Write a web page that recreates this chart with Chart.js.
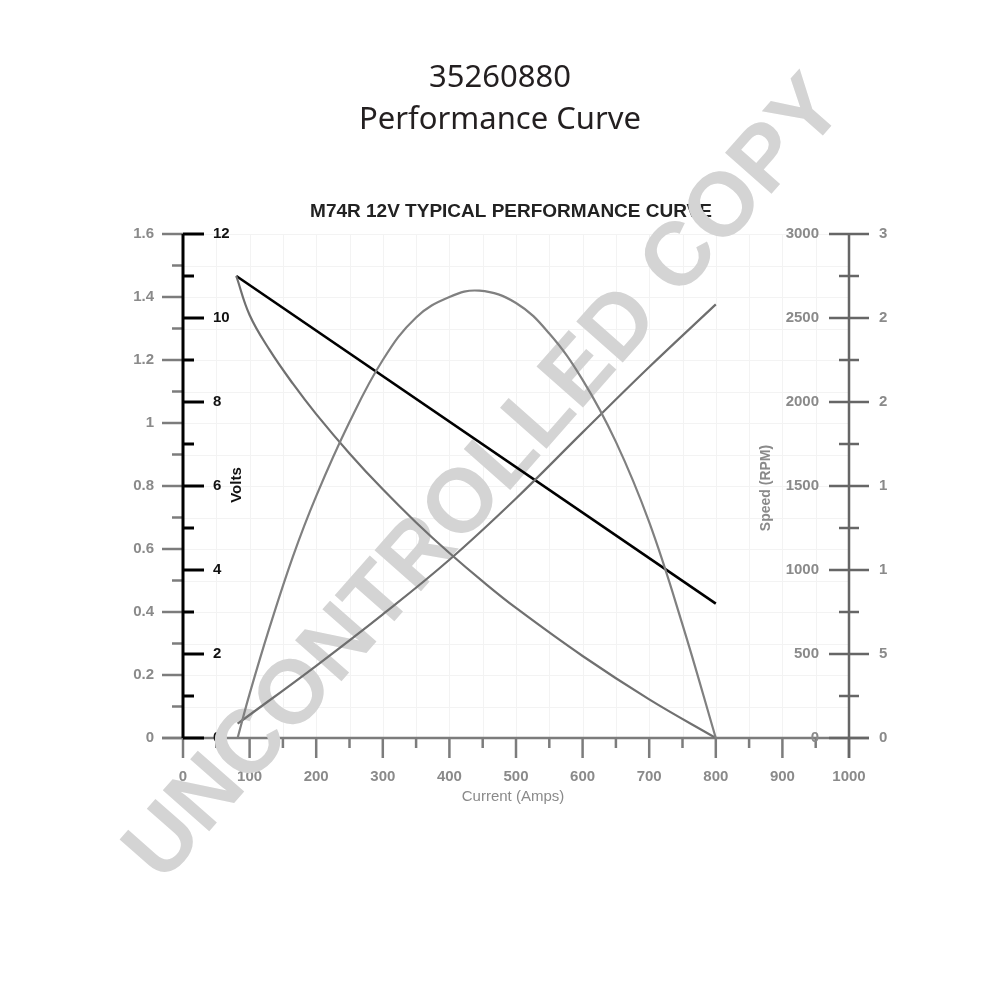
<!DOCTYPE html>
<html>
<head>
<meta charset="utf-8">
<title>35260880 Performance Curve</title>
<script src="https://cdn.jsdelivr.net/npm/chart.js@4.4.1/dist/chart.umd.min.js"></script>
<style>
  html, body { margin: 0; padding: 0; background: #fff; }
  #perf-chart { display: block; }
</style>
</head>
<body>
<canvas id="perf-chart" width="1000" height="1000"></canvas>
<script>
// Values (x = current in amps)
const voltsAmps = [80, 800];
const voltsValues = [11.0, 3.2];

const speedAmps = [80, 100, 130, 165, 200, 250, 300, 350, 400, 450, 500, 600, 700, 800];
const speedRpm = [2750, 2518, 2310, 2109, 1928, 1694, 1480, 1283, 1101, 932, 774, 488, 230, 0];

const powerAmps = [82, 100, 130, 165, 200, 250, 300, 350, 400, 445, 500, 550, 600, 650, 700, 750, 800];
const powerKw = [0, 0.14, 0.351, 0.576, 0.768, 1.003, 1.2, 1.335, 1.40, 1.42, 1.381, 1.284, 1.137, 0.94, 0.685, 0.36, 0];

const torqueAmps = [82, 200, 300, 400, 500, 600, 700, 800];
const torqueNm = [0.85, 4.3, 7.36, 10.61, 14.26, 18.19, 22.08, 25.81];

// Tick labels
const ampTicks = [0, 100, 200, 300, 400, 500, 600, 700, 800, 900, 1000];
const kwTicks = ['0', '0.2', '0.4', '0.6', '0.8', '1', '1.2', '1.4', '1.6'];
const voltTicks = ['0', '2', '4', '6', '8', '10', '12'];
const rpmTicks = ['0', '500', '1000', '1500', '2000', '2500', '3000'];
const torqueTicks = ['0', '5', '1', '1', '2', '2', '3']; // cut off in the original

const GRAY = '#7c7c7c';
const LABEL_GRAY = '#8a8a8a';
const FONT = '"Liberation Sans", Arial, sans-serif';

function toPoints(xs, ys) {
    return xs.map((x, i) => ({ x: x, y: ys[i] }));
}

function line(ctx, x1, y1, x2, y2, color, width) {
    ctx.beginPath();
    ctx.strokeStyle = color;
    ctx.lineWidth = width;
    ctx.moveTo(x1, y1);
    ctx.lineTo(x2, y2);
    ctx.stroke();
}

function text(ctx, str, x, y, font, color, align) {
    ctx.font = font;
    ctx.fillStyle = color;
    ctx.textAlign = align || 'center';
    ctx.textBaseline = 'middle';
    ctx.fillText(str, x, y);
}

// Axes, titles and the watermark are drawn here, under the curves
const axesPlugin = {
    id: 'axesPlugin',
    beforeDatasetsDraw(chart) {
        const ctx = chart.ctx;
        const area = chart.chartArea;
        const x = chart.scales.x;
        const yKw = chart.scales.yKw;
        const yVolts = chart.scales.yVolts;
        const yRpm = chart.scales.yRpm;

        ctx.save();

        // faint grid
        for (let a = 0; a <= 1000; a += 50) {
            const px = Math.round(x.getPixelForValue(a)) + 0.5;
            line(ctx, px, area.top, px, area.bottom, '#f3f3f3', 1);
        }
        for (let i = 0; i <= 16; i++) {
            const py = Math.round(yKw.getPixelForValue(i / 10)) + 0.5;
            line(ctx, area.left, py, area.right, py, '#f3f3f3', 1);
        }

        // x axis
        line(ctx, area.left - 21, area.bottom, area.right + 20, area.bottom, GRAY, 2.5);
        for (let a = 0; a <= 1000; a += 50) {
            const px = x.getPixelForValue(a);
            const len = a % 100 === 0 ? 20 : 10;
            line(ctx, px, area.bottom, px, area.bottom + len, GRAY, 2.5);
        }
        ampTicks.forEach(a => {
            text(ctx, String(a), x.getPixelForValue(a), area.bottom + 39, 'bold 15px ' + FONT, LABEL_GRAY);
        });
        text(ctx, 'Current (Amps)', (area.left + area.right) / 2 - 3, area.bottom + 59, '15px ' + FONT, LABEL_GRAY);

        // left gray axis (ticks point outwards)
        for (let i = 0; i <= 16; i++) {
            const py = yKw.getPixelForValue(i / 10);
            const len = i % 2 === 0 ? 21 : 11;
            line(ctx, area.left - len, py, area.left, py, GRAY, 2.5);
        }
        kwTicks.forEach((t, i) => {
            text(ctx, t, area.left - 29, yKw.getPixelForValue(i * 0.2), 'bold 15px ' + FONT, LABEL_GRAY, 'right');
        });

        // volts axis (black, ticks point inwards)
        line(ctx, area.left, area.top, area.left, area.bottom, '#000', 3);
        for (let v = 0; v <= 12; v++) {
            const py = yVolts.getPixelForValue(v);
            const len = v % 2 === 0 ? 21 : 11;
            line(ctx, area.left, py, area.left + len, py, '#000', 3);
        }
        voltTicks.forEach((t, i) => {
            text(ctx, t, area.left + 30, yVolts.getPixelForValue(i * 2), 'bold 15px ' + FONT, '#111', 'left');
        });
        ctx.save();
        ctx.translate(237, 485);
        ctx.rotate(-Math.PI / 2);
        text(ctx, 'Volts', 0, 0, 'bold 15px ' + FONT, '#111');
        ctx.restore();

        // right axis (speed and torque)
        line(ctx, area.right, area.top, area.right, area.bottom + 20, '#666', 2.5);
        for (let r = 0; r <= 3000; r += 250) {
            const py = yRpm.getPixelForValue(r);
            const len = r % 500 === 0 ? 20 : 10;
            line(ctx, area.right - len, py, area.right + len, py, '#666', 2.5);
        }
        rpmTicks.forEach((t, i) => {
            const py = yRpm.getPixelForValue(i * 500);
            text(ctx, t, area.right - 30, py, 'bold 15px ' + FONT, LABEL_GRAY, 'right');
            text(ctx, torqueTicks[i], area.right + 30, py, 'bold 15px ' + FONT, LABEL_GRAY, 'left');
        });
        ctx.save();
        ctx.translate(766, 488);
        ctx.rotate(-Math.PI / 2);
        text(ctx, 'Speed (RPM)', 0, 0, 'bold 14px ' + FONT, LABEL_GRAY);
        ctx.restore();

        // titles
        text(ctx, '35260880', 500, 78, '31px "Noto Sans", sans-serif', '#231f20');
        text(ctx, 'Performance Curve', 500, 120, '31px "Noto Sans", sans-serif', '#231f20');
        text(ctx, 'M74R 12V TYPICAL PERFORMANCE CURVE', 511, 212, 'bold 19px ' + FONT, '#222');

        // watermark
        ctx.translate(486, 480);
        ctx.rotate(-48.6 * Math.PI / 180);
        text(ctx, 'UNCONTROLLED COPY', 0, 0, 'bold 90px ' + FONT, '#d4d4d4');

        ctx.restore();
    }
};

const ctx = document.getElementById('perf-chart').getContext('2d');
const chart = new Chart(ctx, {
    type: 'line',
    data: {
        datasets: [
            {
                label: 'Power (kW)',
                data: toPoints(powerAmps, powerKw),
                yAxisID: 'yKw',
                borderColor: '#808080',
                borderWidth: 2.2,
                tension: 0.4
            },
            {
                label: 'Speed (RPM)',
                data: toPoints(speedAmps, speedRpm),
                yAxisID: 'yRpm',
                borderColor: '#707070',
                borderWidth: 2.2,
                tension: 0.4
            },
            {
                label: 'Torque',
                data: toPoints(torqueAmps, torqueNm),
                yAxisID: 'yNm',
                borderColor: '#6e6e6e',
                borderWidth: 2.2,
                tension: 0.4
            },
            {
                label: 'Volts',
                data: toPoints(voltsAmps, voltsValues),
                yAxisID: 'yVolts',
                borderColor: '#000',
                borderWidth: 2.6
            }
        ]
    },
    options: {
        responsive: false,
        animation: false,
        elements: { point: { radius: 0 } },
        layout: { padding: { left: 183, right: 151, top: 234, bottom: 262 } },
        plugins: {
            legend: { display: false },
            title: { display: false },
            tooltip: { enabled: false }
        },
        scales: {
            x: { type: 'linear', min: 0, max: 1000, display: false },
            yKw: { type: 'linear', axis: 'y', position: 'left', min: 0, max: 1.6, display: false },
            yVolts: { type: 'linear', axis: 'y', position: 'left', min: 0, max: 12, display: false },
            yRpm: { type: 'linear', axis: 'y', position: 'right', min: 0, max: 3000, display: false },
            yNm: { type: 'linear', axis: 'y', position: 'right', min: 0, max: 30, display: false }
        }
    },
    plugins: [axesPlugin]
});
</script>
</body>
</html>
